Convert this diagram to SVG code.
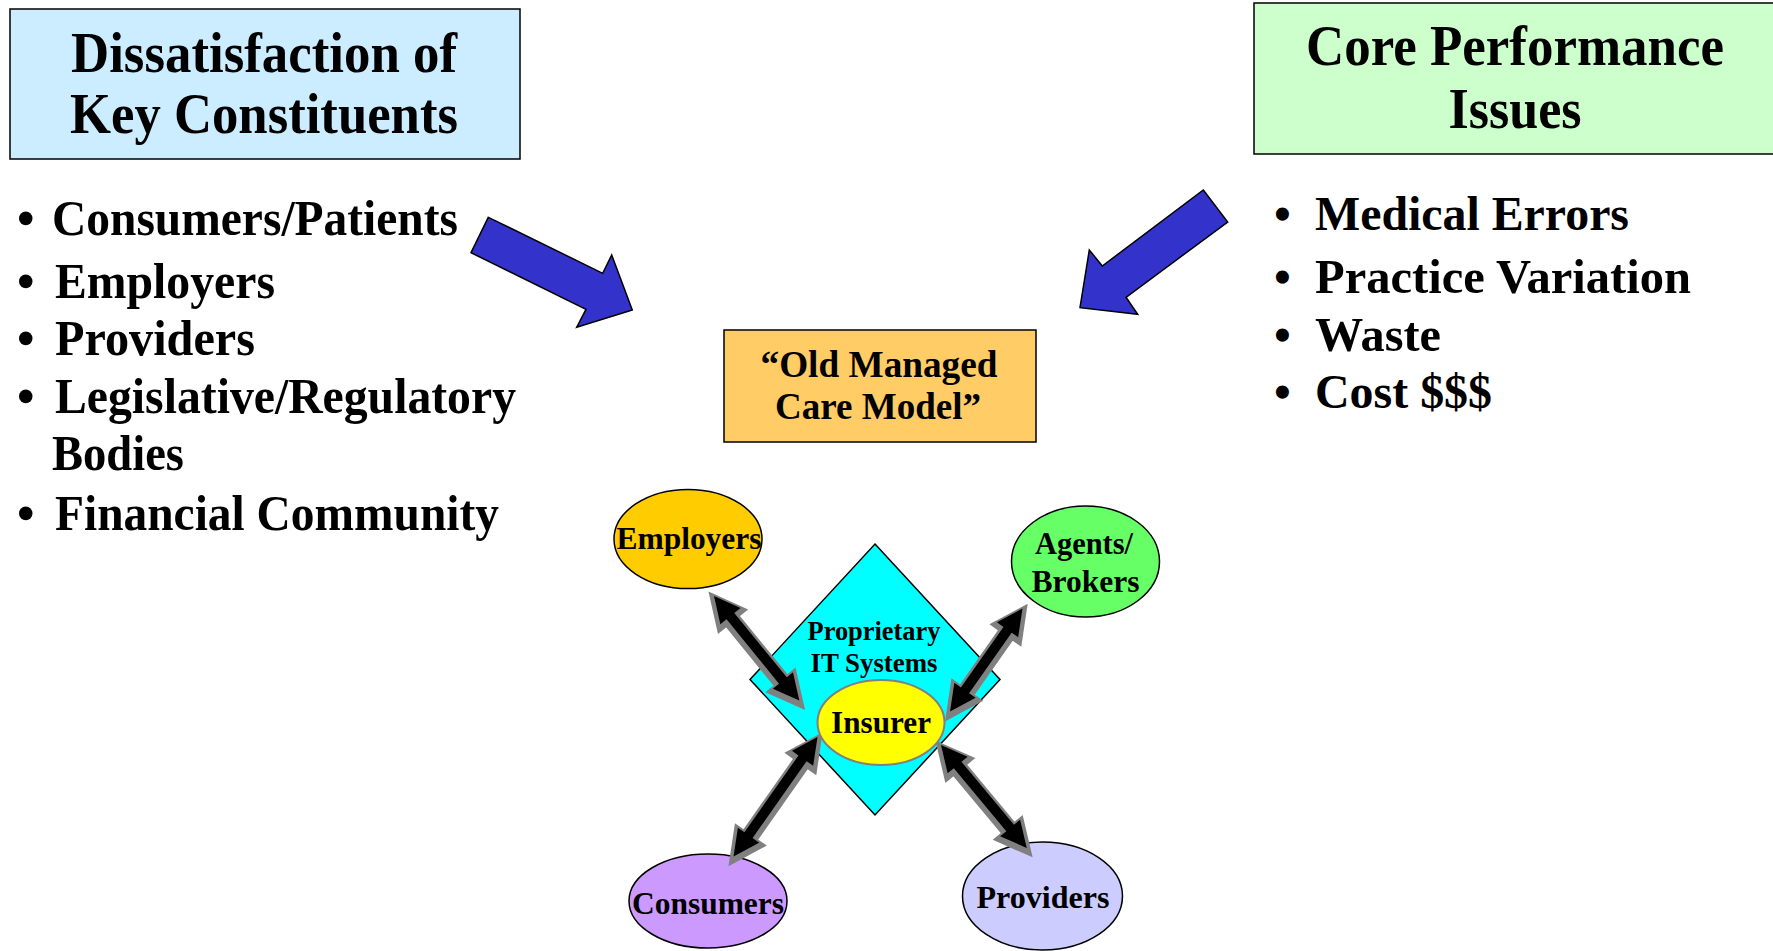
<svg xmlns="http://www.w3.org/2000/svg" width="1773" height="951" viewBox="0 0 1773 951">
  <style>
    .t { font-family: "Liberation Serif", "Times New Roman", serif; font-weight: bold; fill: #000; }
    .title { font-size: 57px; }
    .item { font-size: 50px; }
    .item-r { font-size: 48px; }
    .node { font-size: 31px; }
    .small { font-size: 27px; }
    .box { stroke: #000; stroke-width: 1.5; }
    .ell { stroke: #000; stroke-width: 1.5; }
    .big-arrow { fill: #3333CC; stroke: #000; stroke-width: 1.5; stroke-linejoin: miter; }
    .link-shadow { fill: #808080; stroke: #808080; stroke-width: 8; stroke-linejoin: miter; }
    .link { fill: #000; }
  </style>

  <defs>
    <!-- double-headed link shapes, drawn along +x from the origin -->
    <polygon id="link-135" points="0,0 26,-13 26,-5 109,-5 109,-13 135,0 109,13 109,5 26,5 26,13"/>
    <polygon id="link-126" points="0,0 26,-13 26,-5 100,-5 100,-13 126,0 100,13 100,5 26,5 26,13"/>
    <polygon id="link-146" points="0,0 26,-13 26,-5 120,-5 120,-13 146,0 120,13 120,5 26,5 26,13"/>
    <polygon id="link-134" points="0,0 26,-13 26,-5 108,-5 108,-13 134,0 108,13 108,5 26,5 26,13"/>
  </defs>

  <rect width="1773" height="951" fill="#fff"/>

  <!-- Title boxes -->
  <g id="dissatisfaction">
    <rect class="box" x="10" y="9" width="510" height="150" fill="#CCECFF"/>
    <text class="t title" x="264" y="72" text-anchor="middle" textLength="386" lengthAdjust="spacingAndGlyphs">Dissatisfaction of</text>
    <text class="t title" x="264" y="133" text-anchor="middle" textLength="388" lengthAdjust="spacingAndGlyphs">Key Constituents</text>
  </g>

  <g id="core-performance">
    <rect class="box" x="1254" y="3" width="530" height="151" fill="#CCFFCC"/>
    <text class="t title" x="1515" y="65" text-anchor="middle" textLength="418" lengthAdjust="spacingAndGlyphs">Core Performance</text>
    <text class="t title" x="1515" y="128" text-anchor="middle" textLength="133" lengthAdjust="spacingAndGlyphs">Issues</text>
  </g>

  <!-- Constituent list -->
  <g id="constituents-list">
    <text class="t item" x="17" y="235">•</text>
    <text class="t item" x="52" y="235" textLength="406" lengthAdjust="spacingAndGlyphs">Consumers/Patients</text>
    <text class="t item" x="17" y="298">•</text>
    <text class="t item" x="55" y="298" textLength="220" lengthAdjust="spacingAndGlyphs">Employers</text>
    <text class="t item" x="17" y="355">•</text>
    <text class="t item" x="55" y="355" textLength="200" lengthAdjust="spacingAndGlyphs">Providers</text>
    <text class="t item" x="17" y="413">•</text>
    <text class="t item" x="55" y="413" textLength="461" lengthAdjust="spacingAndGlyphs">Legislative/Regulatory</text>
    <text class="t item" x="52" y="470" textLength="132" lengthAdjust="spacingAndGlyphs">Bodies</text>
    <text class="t item" x="17" y="530">•</text>
    <text class="t item" x="55" y="530" textLength="444" lengthAdjust="spacingAndGlyphs">Financial Community</text>
  </g>

  <!-- Performance issue list -->
  <g id="issues-list">
    <text class="t item-r" x="1274" y="230">•</text>
    <text class="t item-r" x="1315" y="230" textLength="314" lengthAdjust="spacingAndGlyphs">Medical Errors</text>
    <text class="t item-r" x="1274" y="293">•</text>
    <text class="t item-r" x="1315" y="293" textLength="376" lengthAdjust="spacingAndGlyphs">Practice Variation</text>
    <text class="t item-r" x="1274" y="351">•</text>
    <text class="t item-r" x="1315" y="351" textLength="126" lengthAdjust="spacingAndGlyphs">Waste</text>
    <text class="t item-r" x="1274" y="408">•</text>
    <text class="t item-r" x="1315" y="408" textLength="177" lengthAdjust="spacingAndGlyphs">Cost $$$</text>
  </g>

  <!-- Old managed care model -->
  <g id="old-model">
    <rect class="box" x="724" y="330" width="312" height="112" fill="#FFCC66"/>
    <text class="t" font-size="37" x="879" y="377" text-anchor="middle" textLength="237" lengthAdjust="spacingAndGlyphs">“Old Managed</text>
    <text class="t" font-size="37" x="878" y="419" text-anchor="middle" textLength="206" lengthAdjust="spacingAndGlyphs">Care Model”</text>
  </g>

  <!-- Proprietary IT systems hub -->
  <g id="it-systems">
    <polygon class="box" points="875,544 1000,679.5 875,815 750,679.5" fill="#00FFFF"/>
    <text class="t small" x="874" y="640" text-anchor="middle" textLength="133" lengthAdjust="spacingAndGlyphs">Proprietary</text>
    <text class="t small" x="874" y="672" text-anchor="middle" textLength="127" lengthAdjust="spacingAndGlyphs">IT Systems</text>
  </g>

  <g id="employers">
    <ellipse class="ell" cx="688" cy="539" rx="74" ry="49.5" fill="#FFCC00"/>
    <text class="t node" x="689" y="549" text-anchor="middle" textLength="145" lengthAdjust="spacingAndGlyphs">Employers</text>
  </g>

  <g id="agents-brokers">
    <ellipse class="ell" cx="1085.5" cy="561.5" rx="74" ry="55.5" fill="#66FF66"/>
    <text class="t node" x="1084" y="554" text-anchor="middle" textLength="98" lengthAdjust="spacingAndGlyphs">Agents/</text>
    <text class="t node" x="1085.5" y="592" text-anchor="middle" textLength="108" lengthAdjust="spacingAndGlyphs">Brokers</text>
  </g>

  <g id="consumers">
    <ellipse class="ell" cx="708" cy="901" rx="79" ry="47" fill="#CC99FF"/>
    <text class="t node" x="708" y="914" text-anchor="middle" textLength="152" lengthAdjust="spacingAndGlyphs">Consumers</text>
  </g>

  <g id="providers">
    <ellipse class="ell" cx="1042.5" cy="896" rx="80" ry="54" fill="#CCCCFF"/>
    <text class="t node" x="1043" y="908" text-anchor="middle" textLength="133" lengthAdjust="spacingAndGlyphs">Providers</text>
  </g>

  <!-- Connectors -->
  <g id="connectors">
    <!-- block arrows into the model -->
    <polygon class="big-arrow" points="488.3,217.3 602.7,273.3 611.7,255 632.3,310 576.7,327.3 586,309.3 471,252.7"/>
    <polygon class="big-arrow" points="1203.3,190 1227.7,222 1126,297.3 1137.7,314.3 1080,307.7 1089.3,250 1102.3,266"/>

    <!-- double-headed links around the insurer: grey shadow, black arrow on top -->
    <g transform="translate(714,596) rotate(50.8)">
      <use href="#link-135" class="link-shadow" transform="translate(2,1.5)"/>
      <use href="#link-135" class="link"/>
    </g>
    <g transform="translate(1022.5,608.5) rotate(125.1)">
      <use href="#link-126" class="link-shadow" transform="translate(2,-1.5)"/>
      <use href="#link-126" class="link"/>
    </g>
    <g transform="translate(817.5,737) rotate(125.1)">
      <use href="#link-146" class="link-shadow" transform="translate(2,-1.5)"/>
      <use href="#link-146" class="link"/>
    </g>
    <g transform="translate(941,745) rotate(50.2)">
      <use href="#link-134" class="link-shadow" transform="translate(2,1.5)"/>
      <use href="#link-134" class="link"/>
    </g>
  </g>

  <g id="insurer">
    <ellipse cx="881" cy="722.5" rx="63.5" ry="42.5" fill="#FFFF00" stroke="#808080" stroke-width="2"/>
    <text class="t node" x="881" y="733" text-anchor="middle" textLength="100" lengthAdjust="spacingAndGlyphs">Insurer</text>
  </g>
</svg>
